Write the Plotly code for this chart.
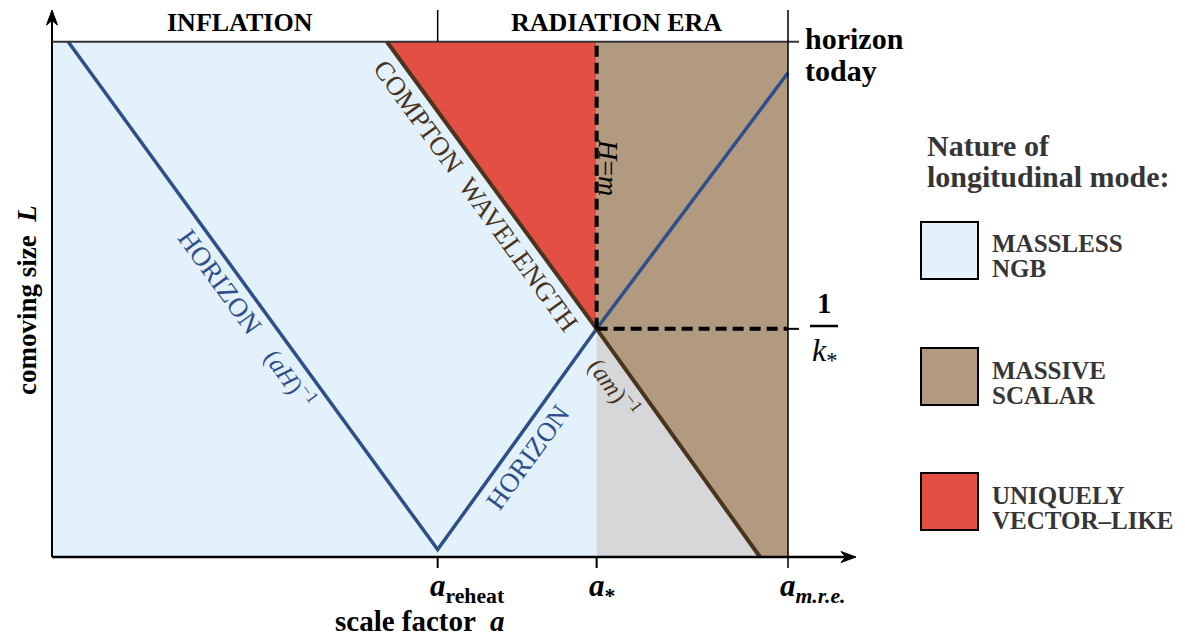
import plotly.graph_objects as go

# ---------------- schematic data (log-scale positions, arbitrary units) ----------------
a_tick_names = ["<b><i>a</i></b><sub><b>reheat</b></sub>",
                "<b><i>a</i></b><sub><b>*</b></sub>",
                "<b><i>a</i></b><sub><b><i>m.r.e.</i></b></sub>"]
a_reheat = 5.24
a_star = 7.40
a_mre = 10.0
a_start = 0.0

L_today = 7.0      # horizon today
L_kstar = 3.10     # 1/k*
L_bottom = 0.0

# comoving horizon (aH)^-1 : falls during inflation, rises in radiation era
horizon_a = [0.22, 5.24, 7.40, 10.0]
horizon_L = [7.0, 0.10, 3.10, 6.58]

# Compton wavelength (am)^-1
compton_a = [4.55, 7.40, 9.62]
compton_L = [7.0, 3.10, 0.0]

legend_labels = [("MASSLESS", "NGB"), ("MASSIVE", "SCALAR"), ("UNIQUELY", "VECTOR\u2013LIKE")]

# ---------------- colours ----------------
C_BLUE_FILL = "#e3f1fd"
C_RED = "#e44f43"
C_BROWN = "#b29a80"
C_GRAY = "#d6d7d9"
C_BLUE_LINE = "#2f4f8a"
C_BROWN_LINE = "#4a341e"
C_TEXT = "#353535"
FONT = "Liberation Serif"

S = 73.6          # px per unit
X0, Y0 = 52, 557  # page pixel of the origin
OFF = 8           # page body margin
W, H = 1185 - OFF, 637 - OFF
xr = [-(X0 - OFF) / S, (W - (X0 - OFF)) / S]
yr = [-(H - (Y0 - OFF)) / S, (Y0 - OFF) / S]


def py(p):  # page pixel row -> data y
    return (Y0 - p) / S


def px(p):  # page pixel column -> data x
    return (p - X0) / S


fig = go.Figure()

# regions
fig.add_trace(go.Scatter(x=[a_start, a_mre, a_mre, a_start], y=[L_bottom, L_bottom, L_today, L_today],
                         fill="toself", fillcolor=C_BLUE_FILL, mode="none", hoverinfo="skip"))
fig.add_trace(go.Scatter(x=[compton_a[0], a_star, a_star], y=[L_today, L_today, L_kstar],
                         fill="toself", fillcolor=C_RED, mode="none", hoverinfo="skip"))
fig.add_trace(go.Scatter(x=[a_star, a_mre, a_mre, compton_a[2], a_star],
                         y=[L_today, L_today, L_bottom, compton_L[2], L_kstar],
                         fill="toself", fillcolor=C_BROWN, mode="none", hoverinfo="skip"))
fig.add_trace(go.Scatter(x=[a_star, compton_a[2], a_star], y=[L_kstar, compton_L[2], L_bottom],
                         fill="toself", fillcolor=C_GRAY, mode="none", hoverinfo="skip"))

# horizon line
fig.add_trace(go.Scatter(x=horizon_a, y=horizon_L, mode="lines",
                         line=dict(color=C_BLUE_LINE, width=3.5), hoverinfo="skip"))
# compton line
fig.add_trace(go.Scatter(x=compton_a, y=compton_L, mode="lines",
                         line=dict(color=C_BROWN_LINE, width=4), hoverinfo="skip"))
# dashed H=m and 1/k* lines
fig.add_trace(go.Scatter(x=[a_star, a_star], y=[L_kstar, L_today], mode="lines",
                         line=dict(color="black", width=4, dash="11px,6px"), hoverinfo="skip"))
fig.add_trace(go.Scatter(x=[a_star, a_mre], y=[L_kstar, L_kstar], mode="lines",
                         line=dict(color="black", width=4, dash="11px,6px"), hoverinfo="skip"))

shapes = []
top_band = py(10)
x_arrow_end = px(856)
tick_len = 11 / S
# axes lines
shapes.append(dict(type="line", x0=a_start, x1=a_start, y0=L_bottom, y1=top_band - 8 / S,
                   line=dict(color="black", width=2)))
shapes.append(dict(type="line", x0=a_start, x1=x_arrow_end - 8 / S, y0=L_bottom, y1=L_bottom,
                   line=dict(color="black", width=2.5)))
# arrowheads (stealth style)
hx, hy = 15 / S, 5.5 / S
shapes.append(dict(type="path",
                   path=f"M {a_start} {top_band} L {a_start - hy} {top_band - hx} "
                        f"L {a_start} {top_band - 0.7 * hx} L {a_start + hy} {top_band - hx} Z",
                   fillcolor="black", line=dict(color="black", width=1)))
shapes.append(dict(type="path",
                   path=f"M {x_arrow_end} {L_bottom} L {x_arrow_end - hx} {L_bottom + hy} "
                        f"L {x_arrow_end - 0.7 * hx} {L_bottom} L {x_arrow_end - hx} {L_bottom - hy} Z",
                   fillcolor="black", line=dict(color="black", width=1)))
# top border of box (extends as tick)
shapes.append(dict(type="line", x0=a_start, x1=a_mre + tick_len, y0=L_today, y1=L_today,
                   line=dict(color="#333333", width=2)))
# right border
shapes.append(dict(type="line", x0=a_mre, x1=a_mre, y0=-tick_len, y1=top_band,
                   line=dict(color="black", width=1.5)))
# era separator
shapes.append(dict(type="line", x0=a_reheat, x1=a_reheat, y0=L_today, y1=top_band,
                   line=dict(color="black", width=1.5)))
# x ticks
for a in [a_reheat, a_star]:
    shapes.append(dict(type="line", x0=a, x1=a, y0=0, y1=-tick_len, line=dict(color="black", width=2)))
# 1/k* tick
shapes.append(dict(type="line", x0=a_mre, x1=a_mre + tick_len, y0=L_kstar, y1=L_kstar,
                   line=dict(color="black", width=2)))
# fraction bar
shapes.append(dict(type="line", x0=px(810), x1=px(838), y0=py(326), y1=py(326),
                   line=dict(color="black", width=2.5)))

# legend boxes
box_x = (px(921), px(978))
box_tops = [222, 348, 473]
box_cols = [C_BLUE_FILL, C_BROWN, C_RED]
for t, c in zip(box_tops, box_cols):
    shapes.append(dict(type="rect", x0=box_x[0], x1=box_x[1], y0=py(t), y1=py(t + 57),
                       fillcolor=c, line=dict(color="black", width=2)))

annotations = []


def txt(x, y, text, size, color="black", angle=0, xanchor="center", xshift=0, yshift=0):
    annotations.append(dict(x=x, y=y, xref="x", yref="y", text=text, showarrow=False,
                            font=dict(family=FONT, size=size, color=color), textangle=angle,
                            xanchor=xanchor, yanchor="middle", xshift=xshift, yshift=yshift))


# era labels
txt(px(240), py(22), "<b>INFLATION</b>", 26)
txt((a_reheat + a_mre) / 2 + 4 / S, py(22), "<b>RADIATION ERA</b>", 26)

# tick labels
for a, lab in zip([a_reheat, a_star, a_mre], a_tick_names):
    txt(a, py(588), lab, 31, xanchor="left", xshift=-10)

# axis titles
txt(px(27), py(300), "<b>comoving size  <i>L</i></b>", 27, angle=-90)
txt(px(419), py(621), "<b>scale factor  <i>a</i></b>", 29)

# right side labels
txt(px(803), py(38), "<b>horizon</b>", 30, xanchor="left")
txt(px(803), py(70), "<b>today</b>", 30, xanchor="left")
txt(px(824), py(303), "<b>1</b>", 29)
txt(px(824), py(352), "<i>k</i><sub>*</sub>", 32)

# in-plot labels
txt(px(476), py(196), "COMPTON\u2002WAVELENGTH", 27, color=C_BROWN_LINE, angle=54)
txt(px(609), py(167), "<i>H</i>=<i>m</i>", 28, angle=90)
txt(px(220), py(282), "HORIZON", 27, color=C_BLUE_LINE, angle=54)
txt(px(291), py(378), "(<i>aH</i>)<sup>\u22121</sup>", 25, color=C_BLUE_LINE, angle=54)
txt(px(528), py(457), "HORIZON", 27, color=C_BLUE_LINE, angle=-54)
txt(px(615), py(387), "(<i>am</i>)<sup>\u22121</sup>", 25, color=C_BROWN_LINE, angle=54)

# legend text
txt(px(925), py(145), "<b>Nature of</b>", 30, color=C_TEXT, xanchor="left")
txt(px(925), py(176), "<b>longitudinal mode:</b>", 30, color=C_TEXT, xanchor="left")
leg_rows = [(243, 268), (370, 395), (495, 520)]
for (l1, l2), (r1, r2) in zip(legend_labels, leg_rows):
    txt(px(990), py(r1), "<b>" + l1 + "</b>", 25, color=C_TEXT, xanchor="left")
    txt(px(990), py(r2), "<b>" + l2 + "</b>", 25, color=C_TEXT, xanchor="left")

fig.update_layout(
    width=W, height=H, margin=dict(l=0, r=0, t=0, b=0),
    paper_bgcolor="white", plot_bgcolor="white", showlegend=False,
    xaxis=dict(range=xr, visible=False, fixedrange=True),
    yaxis=dict(range=yr, visible=False, fixedrange=True),
    shapes=shapes, annotations=annotations,
)
fig.write_html("out.html")
